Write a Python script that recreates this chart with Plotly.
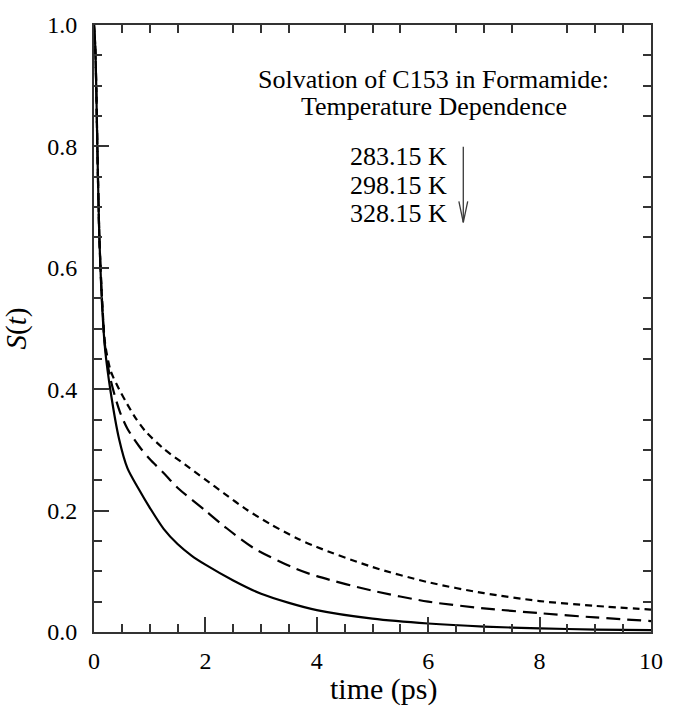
import plotly.graph_objects as go

# ---------------- data ----------------
t_328 = [0, 0.02, 0.04, 0.06, 0.08, 0.10, 0.15, 0.20, 0.30, 0.45, 0.60, 0.80, 1.00, 1.25, 1.50, 1.75,
         2.00, 2.50, 3.00, 3.50, 4.00, 5.00, 6.00, 7.00, 8.00, 9.00, 10.0]
s_328 = [1.0, 0.97, 0.90, 0.80, 0.71, 0.64, 0.53, 0.465, 0.395, 0.318, 0.270, 0.236, 0.205, 0.170, 0.145, 0.126,
         0.111, 0.085, 0.063, 0.048, 0.036, 0.022, 0.014, 0.009, 0.006, 0.004, 0.003]

t_298 = [0, 0.02, 0.04, 0.06, 0.08, 0.10, 0.15, 0.20, 0.30, 0.46, 0.60, 0.81, 1.00, 1.25, 1.52,
         2.00, 2.34, 2.87, 3.63, 4.00, 5.00, 6.00, 7.00, 8.00, 9.00, 10.0]
s_298 = [1.0, 0.97, 0.90, 0.80, 0.71, 0.64, 0.535, 0.47, 0.415, 0.364, 0.335, 0.306, 0.285, 0.262, 0.236,
         0.200, 0.174, 0.138, 0.104, 0.092, 0.068, 0.050, 0.039, 0.031, 0.024, 0.018]

t_283 = [0, 0.02, 0.04, 0.06, 0.08, 0.10, 0.15, 0.20, 0.30, 0.45, 0.58, 0.75, 0.93, 1.25, 1.63,
         2.00, 2.34, 2.75, 3.16, 3.63, 4.00, 5.00, 6.00, 7.00, 8.00, 9.00, 10.0]
s_283 = [1.0, 0.97, 0.90, 0.80, 0.71, 0.64, 0.54, 0.475, 0.43, 0.40, 0.378, 0.352, 0.330, 0.302, 0.276,
         0.251, 0.228, 0.201, 0.178, 0.155, 0.140, 0.107, 0.082, 0.064, 0.051, 0.043, 0.037]

temp_labels = ["283.15 K", "298.15 K", "328.15 K"]
title_lines = ["Solvation of C153 in Formamide:", "Temperature Dependence"]
x_title = "time (ps)"
y_title = "<i>S</i>(<i>t</i>)"

FONT = "Liberation Serif, Times New Roman, serif"
AX = "#333333"

fig = go.Figure()
common = dict(mode="lines", hoverinfo="skip")
fig.add_trace(go.Scatter(x=t_283, y=s_283, name=temp_labels[0], **common,
                         line=dict(color="black", width=2.2, dash="7px,5px", shape="spline", smoothing=0.8)))
fig.add_trace(go.Scatter(x=t_298, y=s_298, name=temp_labels[1], **common,
                         line=dict(color="black", width=2.2, dash="14px,7px", shape="spline", smoothing=0.8)))
fig.add_trace(go.Scatter(x=t_328, y=s_328, name=temp_labels[2], **common,
                         line=dict(color="black", width=2.2, shape="spline", smoothing=0.8)))

# minor-only ticks for the mirrored (top / right) sides
x_minor_top = [i * 0.5 for i in range(1, 20) if i % 4 != 0]
y_minor_right = [round(i * 0.05, 2) for i in range(1, 20) if i % 4 != 0]

fig.update_layout(
    width=675, height=709,
    margin=dict(l=94, r=14, t=22, b=77),
    plot_bgcolor="white", paper_bgcolor="white",
    showlegend=False,
    font=dict(family=FONT, color="black", size=24),
    xaxis=dict(range=[0, 10], dtick=2, tick0=0, ticks="inside", ticklen=15, tickwidth=1.5,
               tickcolor=AX, showline=True, linecolor=AX, linewidth=2, showgrid=False,
               zeroline=False, ticklabelstandoff=6,
               tickfont=dict(size=24, family=FONT),
               minor=dict(dtick=0.5, ticks="inside", ticklen=8, tickwidth=1.5, tickcolor=AX)),
    yaxis=dict(range=[0, 1], dtick=0.2, tick0=0, tickformat=".1f", ticks="inside", ticklen=15,
               tickwidth=1.5, tickcolor=AX, showline=True, linecolor=AX, linewidth=2,
               showgrid=False, zeroline=False, ticklabelstandoff=10,
               tickfont=dict(size=24, family=FONT),
               minor=dict(dtick=0.05, ticks="inside", ticklen=8, tickwidth=1.5, tickcolor=AX),
               title=dict(text=y_title, font=dict(size=29, family=FONT), standoff=14)),
    xaxis2=dict(overlaying="x", side="top", range=[0, 10], tickmode="array",
                tickvals=x_minor_top, ticks="inside", ticklen=8, tickwidth=1.5, tickcolor=AX,
                showticklabels=False, showline=True, linecolor=AX, linewidth=2,
                showgrid=False, zeroline=False),
    yaxis2=dict(overlaying="y", side="right", range=[0, 1], tickmode="array",
                tickvals=y_minor_right, ticks="inside", ticklen=8, tickwidth=1.5, tickcolor=AX,
                showticklabels=False, showline=True, linecolor=AX, linewidth=2,
                showgrid=False, zeroline=False),
)

# invisible trace to activate the mirrored axes
fig.add_trace(go.Scatter(x=[0], y=[0], xaxis="x2", yaxis="y2", mode="markers",
                         marker=dict(opacity=0), hoverinfo="skip", showlegend=False))

# x-axis title as a paper annotation
fig.add_annotation(x=0.52, y=-0.094, xref="paper", yref="paper", text=x_title, showarrow=False,
                   xanchor="center", yanchor="middle", font=dict(size=30, family=FONT))

# title annotation
fig.add_annotation(x=6.10, y=0.911, xref="x", yref="y", text=title_lines[0], showarrow=False,
                   xanchor="center", yanchor="middle", font=dict(size=26, family=FONT))
fig.add_annotation(x=6.10, y=0.865, xref="x", yref="y", text=title_lines[1], showarrow=False,
                   xanchor="center", yanchor="middle", font=dict(size=26, family=FONT))

# temperature labels
for lab, yy in zip(temp_labels, [0.784, 0.736, 0.690]):
    fig.add_annotation(x=6.37, y=yy, xref="x", yref="y", text=lab, showarrow=False,
                       xanchor="right", yanchor="middle", font=dict(size=26, family=FONT))

# arrow: shaft + open V head
ARC = "#3a3a3a"
arrow_x, arrow_top, arrow_tip = 6.63, 0.802, 0.675
head_dx, head_dy = 0.085, 0.037
arrow_parts = [(arrow_x, arrow_top), (arrow_x - head_dx, arrow_tip + head_dy), (arrow_x + head_dx, arrow_tip + head_dy)]
for ax0, ay0 in arrow_parts:
    fig.add_annotation(x=arrow_x, y=arrow_tip, ax=ax0, ay=ay0, xref="x", yref="y", axref="x", ayref="y",
                       text="", showarrow=True, arrowhead=0, arrowwidth=1.3, arrowcolor=ARC)

fig.write_html("out.html", config={"displayModeBar": False},
               post_script="document.body.style.margin='0';document.body.style.overflow='hidden';")
